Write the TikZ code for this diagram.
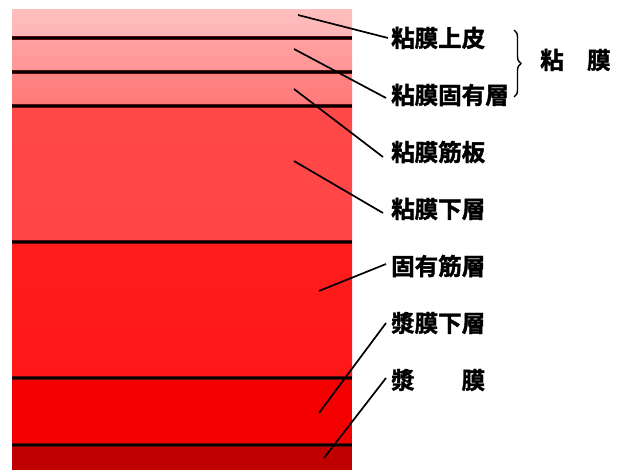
\documentclass[tikz,border=0pt]{standalone}
\usepackage{fontspec}
\newfontfamily\cjk{Noto Sans CJK JP}[BoldFont={Noto Sans CJK JP Bold},BoldFeatures={FakeBold=1.6}]
\usetikzlibrary{decorations.pathreplacing}
\definecolor{c1t}{RGB}{255,190,190}\definecolor{c1b}{RGB}{255,180,180}
\definecolor{c2t}{RGB}{255,160,160}\definecolor{c2b}{RGB}{255,150,150}
\definecolor{c3t}{RGB}{255,132,132}\definecolor{c3b}{RGB}{255,122,122}
\definecolor{c4t}{RGB}{255,72,72}\definecolor{c4b}{RGB}{255,70,70}
\definecolor{c5t}{RGB}{255,28,28}\definecolor{c5b}{RGB}{255,24,24}
\definecolor{c6}{RGB}{245,0,0}
\definecolor{c7}{RGB}{192,0,0}
\definecolor{halo}{RGB}{90,10,10}
\begin{document}
\begin{tikzpicture}[x=1pt,y=-1pt,
  layerline/.style={line width=3.4pt,draw=halo},
  layercore/.style={line width=1.6pt,draw=black},
  leader/.style={line width=1.7pt,draw=black},
  lbl/.style={anchor=west,inner sep=0pt,font=\cjk\bfseries\fontsize{23.5}{25}\selectfont}]
\useasboundingbox (0,0) rectangle (623,470);
% layers
\shade[top color=c1t,bottom color=c1b] (12,10) rectangle (352,38);
\shade[top color=c2t,bottom color=c2b] (12,38) rectangle (352,72);
\shade[top color=c3t,bottom color=c3b] (12,72) rectangle (352,106);
\shade[top color=c4t,bottom color=c4b] (12,106) rectangle (352,242);
\shade[top color=c5t,bottom color=c5b] (12,242) rectangle (352,378);
\fill[c6] (12,378) rectangle (352,445);
\fill[c7] (12,445) rectangle (352,470);
\foreach \yy in {38,72,106,242,378,445}{
  \draw[layerline] (12,\yy) -- (352,\yy);
  \draw[layercore] (12,\yy) -- (352,\yy);
}
% labels
\node[lbl] (l1) at (391,38) {粘膜上皮};
\node[lbl] (l2) at (391,95) {粘膜固有層};
\node[lbl] (l3) at (391,152) {粘膜筋板};
\node[lbl] (l4) at (391,209) {粘膜下層};
\node[lbl] (l5) at (391,266) {固有筋層};
\node[lbl] (l6) at (391,323) {漿膜下層};
\node[lbl] (l7) at (391,380) {漿　　膜};
\node[lbl] (lm) at (540,60) {粘　膜};
% leader start points
\coordinate (p1) at (298,15);
\coordinate (p2) at (294,49);
\coordinate (p3) at (294,89);
\coordinate (p4) at (294,161);
\coordinate (p5) at (319,291);
\coordinate (p6) at (319,413);
\coordinate (p7) at (324,458);
\draw[leader] (p1) -- ([xshift=-3pt]l1.west);
\draw[leader] (p2) -- ([xshift=-5pt,yshift=-3pt]l2.west);
\draw[leader] (p3) -- ([xshift=-8pt,yshift=-5pt]l3.west);
\draw[leader] (p4) -- ([xshift=-8pt,yshift=-4pt]l4.west);
\draw[leader] (p5) -- ([xshift=-5pt,yshift=2pt]l5.west);
\draw[leader] (p6) -- ([xshift=-5pt]l6.west);
\draw[leader] (p7) -- ([xshift=-5pt,yshift=2pt]l7.west);
% brace
\coordinate (bt) at (514,30);
\coordinate (bb) at (514,97);
\draw[line width=1.4pt,decorate,decoration={brace,amplitude=7pt}] (bt) -- (bb);
\end{tikzpicture}
\end{document}
